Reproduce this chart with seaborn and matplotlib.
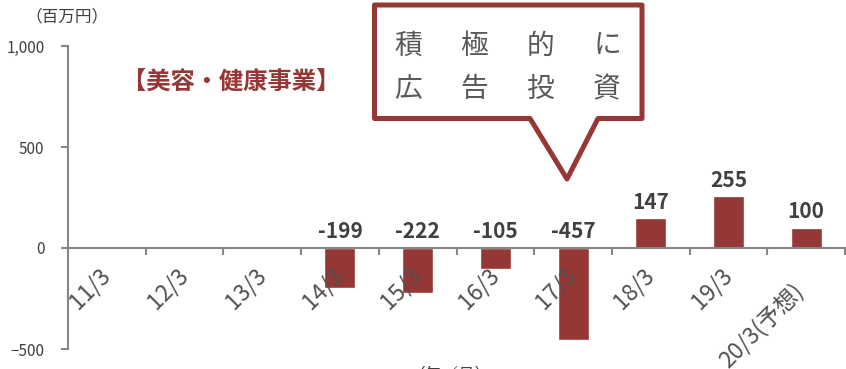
import numpy as np
import pandas as pd
import matplotlib
matplotlib.use("Agg")
import matplotlib.pyplot as plt
from matplotlib.patches import Polygon
from matplotlib.ticker import FuncFormatter, FixedLocator
import seaborn as sns

categories = ["11/3", "12/3", "13/3", "14/3", "15/3", "16/3", "17/3", "18/3", "19/3", "20/3(予想)"]
values = [np.nan, np.nan, np.nan, -199, -222, -105, -457, 147, 255, 100]
value_labels = ["", "", "", "-199", "-222", "-105", "-457", "147", "255", "100"]
yticks = [-500, 0, 500, 1000]
callout_row1 = ["積", "極", "的", "に"]
callout_row2 = ["広", "告", "投", "資"]

sns.set_theme(style="white")
plt.rcParams['font.family'] = ['Noto Sans CJK JP', 'DejaVu Sans']

BAR = "#953735"
GRAY = "#404040"
AXC = "#868686"
TICKC = "#505050"

W, H = 846, 369
fig = plt.figure(figsize=(W / 100, H / 100), dpi=100)
ax = fig.add_axes([68 / W, (H - 349) / H, (845 - 68) / W, (349 - 46) / H])

df = pd.DataFrame({"cat": categories, "val": values})
sns.barplot(data=df, x="cat", y="val", color=BAR, saturation=1, width=0.4, ax=ax)
ax.set_axisbelow(False)

ax.set_xlim(-0.5, len(categories) - 0.5)
ax.set_ylim(-500, 1000)
ax.set_yticks(yticks)
ax.yaxis.set_major_formatter(FuncFormatter(lambda v, p: f"{int(v):,}".replace("-", "\u2212")))
ax.set_xlabel("")
ax.set_ylabel("")

for s in ["top", "right"]:
    ax.spines[s].set_visible(False)
ax.spines["bottom"].set_position(("data", 0))
for s in ["left", "bottom"]:
    ax.spines[s].set_color(AXC)
    ax.spines[s].set_linewidth(1.5)

ax.xaxis.set_minor_locator(FixedLocator([i - 0.5 for i in range(len(categories) + 1)]))
ax.tick_params(axis="x", which="major", length=0, pad=17, labelsize=16.5, labelcolor=TICKC)
ax.tick_params(axis="x", which="minor", length=5, width=1.5, color=AXC, direction="out", bottom=True)
ax.tick_params(axis="y", which="major", length=5, width=1.5, color=AXC, direction="out", left=True,
               pad=12, labelsize=11, labelcolor=GRAY)
ax.set_xticks(range(len(categories)))
# the last (long) label sits a bit lower in the reference; drawn separately below
ax.set_xticklabels(categories[:-1] + [""], rotation=45, ha="right", va="center", rotation_mode="anchor")
last = len(categories) - 1
ax.annotate(categories[last], (last, 0), xytext=(-5, -28), textcoords="offset points",
            rotation=45, ha="right", va="center", rotation_mode="anchor",
            fontsize=16.5, color=TICKC, annotation_clip=False)

for i, (v, lab) in enumerate(zip(values, value_labels)):
    if lab:
        ax.annotate(lab, (i, max(v, 0)), xytext=(0, 4), textcoords="offset points",
                    ha="center", va="bottom", fontsize=15, fontweight="bold", color=GRAY)

# texts
fig.text(25 / W, 1 - 17 / H, "（百万円）", fontsize=12, color=GRAY, va="center", ha="left")
fig.text(231 / W, 1 - 83 / H, "【美容・健康事業】", fontsize=17.5, fontweight="bold", color=BAR,
         va="center", ha="center")
fig.text(450 / W, 1 - 366 / H, "（年／月）", fontsize=12, color=GRAY, va="top", ha="center")

# callout
pts = [(374.5, 5), (642, 5), (642, 118.5), (598, 118.5), (567, 179), (530, 118.5), (374.5, 118.5)]
poly = Polygon([(x / W, 1 - y / H) for x, y in pts], closed=True, transform=fig.transFigure,
               facecolor="white", edgecolor=BAR, linewidth=3.6, joinstyle="round", zorder=5)
fig.add_artist(poly)
xs = [408, 474, 540, 607]
for row, yy in [(callout_row1, 46), (callout_row2, 89)]:
    for ch, xx in zip(row, xs):
        fig.text(xx / W, 1 - yy / H, ch, fontsize=20, color="#595959",
                 ha="center", va="center", zorder=6)

fig.savefig("out.png", dpi=100)
